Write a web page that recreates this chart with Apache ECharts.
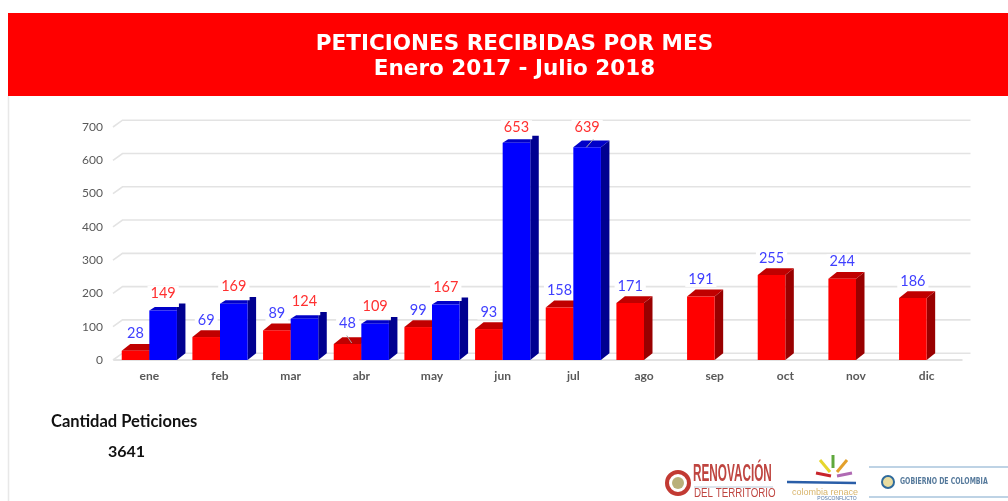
<!DOCTYPE html>
<html><head><meta charset="utf-8">
<style>html,body{margin:0;padding:0;background:#fff}#c{width:1008px;height:501px;filter:blur(0.45px)}</style>
<script src="https://cdn.jsdelivr.net/npm/echarts@6/dist/echarts.min.js"></script></head>
<body><div id="c"></div>
<script>
const months = ['ene','feb','mar','abr','may','jun','jul','ago','sep','oct','nov','dic'];
const y2017 = [28,69,89,48,99,93,158,171,191,255,244,186];
const y2018 = [149,169,124,109,167,653,639,null,null,null,null,null];
const yTicks = [0,100,200,300,400,500,600,700];
const titleLines = ['PETICIONES RECIBIDAS POR MES','Enero 2017 - Julio 2018'];
const totalLabel = 'Cantidad Peticiones';
const totalValue = '3641';

const DX = 8.5, DY = 6.8, BAR = 27.6;
const chart = echarts.init(document.getElementById('c'), null, {renderer:'canvas'});

function leader(ax,ay,bx,by){
  return {type:'line',shape:{x1:ax,y1:ay,x2:bx,y2:by},style:{stroke:'#a6a6a6',lineWidth:1},z2:5};
}
function bars(colors, side, labelColor, lift, leaders, notched){
  return function(params, api){
    const v = api.value(1);
    if (v == null || isNaN(v)) return;
    const i = api.value(0);
    const p = api.coord([i, v]), b = api.coord([i, 0]);
    const x0 = side < 0 ? p[0] - BAR : p[0], x1 = x0 + BAR, y = p[1], by = b[1];
    const n = notched && notched(i);
    const topDy = n ? 3.5 : DY, topDx = n ? 5.5 : DX;
    const kids = [
      {type:'polygon',shape:{points: n
        ? [[x1,y],[x1,y-topDy],[x1+2,y-topDy],[x1+2,y-DY],[x1+DX,y-DY],[x1+DX,by-DY],[x1,by]]
        : [[x1,y],[x1+DX,y-DY],[x1+DX,by-DY],[x1,by]]},style:{fill:colors.side}},
      {type:'polygon',shape:{points:[[x0,y],[x0+topDx,y-topDy],[x1+(n?0:DX),y-topDy],[x1,y]]},style:{fill:colors.top}},
      {type:'rect',shape:{x:x0,y:y,width:BAR,height:by-y},style:{fill:colors.front}},
      {type:'text',style:{text:String(v),x:x0+BAR/2,y:y-(lift[i]||17),align:'center',verticalAlign:'middle',
        fill:labelColor,font:'14.5px Lato',backgroundColor:'#fff',padding:[0,3]},z2:4}
    ];
    const l = leaders[i];
    if (l) kids.push(leader(x0+l[0],y+l[1],x0+l[2],y+l[3]));
    return {type:'group',children:kids};
  };
}

chart.setOption({
  animation:false,
  grid:{left:114,top:127,width:848,height:233,containLabel:false},
  xAxis:{type:'category',data:months,
    axisLine:{show:true,lineStyle:{color:'#d9d9d9',width:1.5}},axisTick:{show:false},
    axisLabel:{color:'#595959',fontFamily:'Lato',fontWeight:'bold',fontSize:12,margin:10}},
  yAxis:{type:'value',min:0,max:700,interval:100,
    axisLine:{show:false},axisTick:{show:false},splitLine:{show:false},
    axisLabel:{color:'#595959',fontFamily:'Lato',fontSize:12,margin:11,formatter:v=>v,
      verticalAlign:'middle',padding:[0,0,5,0]}},
  graphic:[
    {type:'line',shape:{x1:8.5,y1:96,x2:8.5,y2:501},style:{stroke:'#e8e8e8',lineWidth:1.5},silent:true},
    {type:'rect',shape:{x:8,y:13,width:1000,height:83},style:{fill:'#ff0000'},silent:true},
    {type:'text',x:514.5,y:44,style:{text:titleLines[0],align:'center',verticalAlign:'middle',fill:'#fff',font:'bold 21.5px "DejaVu Sans"'}},
    {type:'text',x:514.5,y:69,style:{text:titleLines[1],align:'center',verticalAlign:'middle',fill:'#fff',font:'bold 21.5px "DejaVu Sans"'}},
    {type:'text',x:51,y:422,style:{text:totalLabel,verticalAlign:'middle',fill:'#111',font:'bold 16.5px Lato'}},
    {type:'text',x:108,y:452,style:{text:totalValue,verticalAlign:'middle',fill:'#111',font:'bold 16px Lato'}},
    // Renovación logo
    {type:'circle',shape:{cx:678,cy:483,r:11},style:{fill:'#fff',stroke:'#c23a33',lineWidth:4}},
    {type:'circle',shape:{cx:678,cy:483,r:6},style:{fill:'#b9b07a'}},
    {type:'text',x:693,y:474,scaleX:0.49,style:{text:'RENOVACIÓN',verticalAlign:'middle',fill:'#bf4540',font:'bold 24px "Liberation Sans"'}},
    {type:'line',shape:{x1:694,y1:487,x2:773,y2:487},style:{stroke:'#b9c9d6',lineWidth:1}},
    {type:'text',x:694,y:494,scaleX:0.78,style:{text:'DEL TERRITORIO',verticalAlign:'middle',fill:'#bf4540',font:'12.5px "Liberation Sans"'}},
    // Colombia renace logo
    {type:'line',shape:{x1:820,y1:460,x2:830,y2:472},style:{stroke:'#e6d62c',lineWidth:3}},
    {type:'line',shape:{x1:833,y1:455,x2:833,y2:468},style:{stroke:'#5fa83c',lineWidth:3}},
    {type:'line',shape:{x1:847,y1:460,x2:837,y2:472},style:{stroke:'#e3a02c',lineWidth:3}},
    {type:'line',shape:{x1:816,y1:473,x2:831,y2:476},style:{stroke:'#c8252c',lineWidth:3}},
    {type:'line',shape:{x1:837,y1:476,x2:852,y2:473},style:{stroke:'#b06ab3',lineWidth:3}},
    {type:'line',shape:{x1:787,y1:482,x2:856,y2:483},style:{stroke:'#2a5ea8',lineWidth:2.5}},
    {type:'text',x:825,y:493,style:{text:'colombia renace',align:'center',verticalAlign:'middle',fill:'#d9b56c',font:'9px "Liberation Sans"'}},
    {type:'text',x:837,y:499,style:{text:'POSCONFLICTO',align:'center',verticalAlign:'middle',fill:'#5578a8',font:'5px "Liberation Sans"'}},
    // Gobierno logo
    {type:'line',shape:{x1:869,y1:467,x2:1008,y2:467},style:{stroke:'#a9c4dc',lineWidth:1.5}},
    {type:'line',shape:{x1:869,y1:497,x2:1008,y2:497},style:{stroke:'#a9c4dc',lineWidth:1.5}},
    {type:'circle',shape:{cx:888,cy:482,r:6},style:{fill:'#e8dca0',stroke:'#2f6a9c',lineWidth:2}},
    {type:'text',x:900,y:482,scaleX:0.76,style:{text:'GOBIERNO DE COLOMBIA',verticalAlign:'middle',fill:'#55799b',font:'bold 8.2px "DejaVu Sans"'}}
  ],
  series:[
    {type:'custom',name:'grid',coordinateSystem:'cartesian2d',silent:true,clip:false,z:1,
     data:yTicks.map(t=>[0,t]),encode:{x:0,y:1},
     renderItem(params,api){
       const t=api.value(1), p=api.coord([0,t]), cs=params.coordSys, xl=cs.x, xr=cs.x+cs.width;
       return {type:'polyline',shape:{points:[[xl-1,p[1]],[xl+DX,p[1]-DY],[xr+DX,p[1]-DY]]},
         style:{stroke:'#e3e3e3',lineWidth:1.6,fill:null}};
     }},
    {type:'custom',name:'2017',coordinateSystem:'cartesian2d',silent:true,clip:false,z:2,
     data:y2017.map((v,i)=>[i,v]),encode:{x:0,y:1},
     renderItem:bars({front:'#ff0000',side:'#990000',top:'#c00000'},-1,'#3f3fff',{3:21},
       {3:[13,-8.5,18,-1]})},
    {type:'custom',name:'2018',coordinateSystem:'cartesian2d',silent:true,clip:false,z:3,
     data:y2018.map((v,i)=>[i,v]),encode:{x:0,y:1},
     renderItem:bars({front:'#0000ff',side:'#000090',top:'#0000c8'},1,'#ff3030',{5:15,6:20},
       {6:[13,0,20,-8]},i=>i!==6)}
  ]
});
</script></body></html>
